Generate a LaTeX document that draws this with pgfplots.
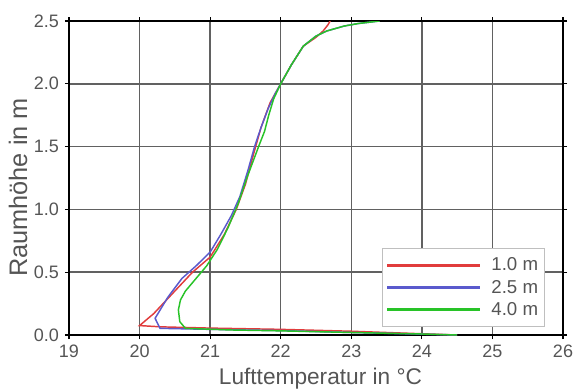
\documentclass[border=0pt]{standalone}
\usepackage{fontspec}
\setmainfont{Liberation Sans}
\usepackage{pgfplots}
\pgfplotsset{compat=1.18}
\definecolor{lred}{RGB}{225,60,60}
\definecolor{lblue}{RGB}{90,90,205}
\definecolor{lgreen}{RGB}{40,195,40}
\definecolor{txt}{RGB}{85,85,85}
\begin{document}
\begin{tikzpicture}
\begin{axis}[
  at={(0,0)}, anchor=south west,
  scale only axis,
  width=370.5pt, height=235.5pt,
  xmin=19, xmax=26, ymin=0, ymax=2.5,
  xtick={19,20,...,26},
  ytick={0,0.5,1.0,1.5,2.0,2.5},
  yticklabel style={/pgf/number format/fixed, /pgf/number format/fixed zerofill, /pgf/number format/precision=1},
  /pgf/number format/assume math mode=true,
  tick label style={font=\fontsize{13.5}{14}\selectfont, color=txt},
  xticklabel style={yshift=-1pt},
  yticklabel style={xshift=-1pt},
  tick align=outside,
  major tick length=3pt,
  tick style={black, line width=0.8pt},
  grid=major,
  major grid style={draw=black!62, line width=1.1pt},
  axis line style={black, line width=1.5pt},
  xlabel={Lufttemperatur in °C},
  ylabel={Raumhöhe in m},
  xlabel style={at={(axis description cs:0.509,-0.159)}, anchor=base, font=\fontsize{17}{18}\selectfont, color=txt},
  ylabel style={at={(axis description cs:-0.085,0.47)}, anchor=base, font=\fontsize{19}{20}\selectfont, color=txt},
  legend style={at={(axis description cs:0.9636,0.0255)}, anchor=south east,
    draw=black!25, fill=white,
    inner xsep=3pt, inner ysep=5pt, row sep=1.5pt,
    font=\fontsize{14}{15}\selectfont,
    /tikz/every odd column/.append style={column sep=6.5pt}},
  legend image code/.code={\fill[#1] (0pt,-0.65pt) rectangle (69pt,0.65pt);},
  legend cell align=right,
]
\addplot[color=lred, line width=1.1pt] coordinates {
 (24.5,0.0) (23.0,0.03) (22.0,0.045) (21.0,0.055) (20.3,0.065) (20.0,0.075)
 (20.2,0.17) (20.5,0.35) (20.75,0.5) (21.0,0.62) (21.2,0.8) (21.37,1.0)
 (21.5,1.2) (21.62,1.45) (21.72,1.65) (21.85,1.85) (22.0,2.0) (22.15,2.15)
 (22.32,2.3) (22.5,2.37) (22.6,2.42) (22.67,2.47) (22.7,2.5)};
\addlegendentry{\textcolor{txt}{1.0 m}}
\addplot[color=lblue, line width=1.1pt] coordinates {
 (24.5,0.0) (23.0,0.02) (22.0,0.035) (21.0,0.045) (20.29,0.053) (20.22,0.133)
 (20.4,0.3) (20.6,0.45) (20.8,0.55) (21.0,0.66) (21.15,0.8) (21.3,0.95)
 (21.42,1.1) (21.53,1.3) (21.63,1.5) (21.72,1.65) (21.82,1.8) (21.92,1.92)
 (22.0,2.0) (22.15,2.15) (22.32,2.3) (22.5,2.38) (22.65,2.42) (22.9,2.46)
 (23.1,2.48) (23.4,2.5)};
\addlegendentry{\textcolor{txt}{2.5 m}}
\addplot[color=lgreen, line width=1.1pt] coordinates {
 (24.5,0.0) (24.0,0.008) (23.0,0.02) (22.0,0.033) (21.3,0.04) (20.65,0.053)
 (20.57,0.106) (20.55,0.2) (20.58,0.28) (20.65,0.35) (20.8,0.45) (20.95,0.55)
 (21.1,0.68) (21.25,0.85) (21.4,1.05) (21.52,1.25) (21.62,1.4) (21.7,1.52)
 (21.77,1.62) (21.83,1.75) (21.9,1.88) (22.0,2.0) (22.15,2.15) (22.32,2.3)
 (22.5,2.38) (22.65,2.42) (22.9,2.46) (23.1,2.48) (23.4,2.5)};
\addlegendentry{\textcolor{txt}{4.0 m}}
\end{axis}
\pgfresetboundingbox
\useasboundingbox (-51.75pt,-40.5pt) rectangle (381pt,251.25pt);
\end{tikzpicture}
\end{document}
